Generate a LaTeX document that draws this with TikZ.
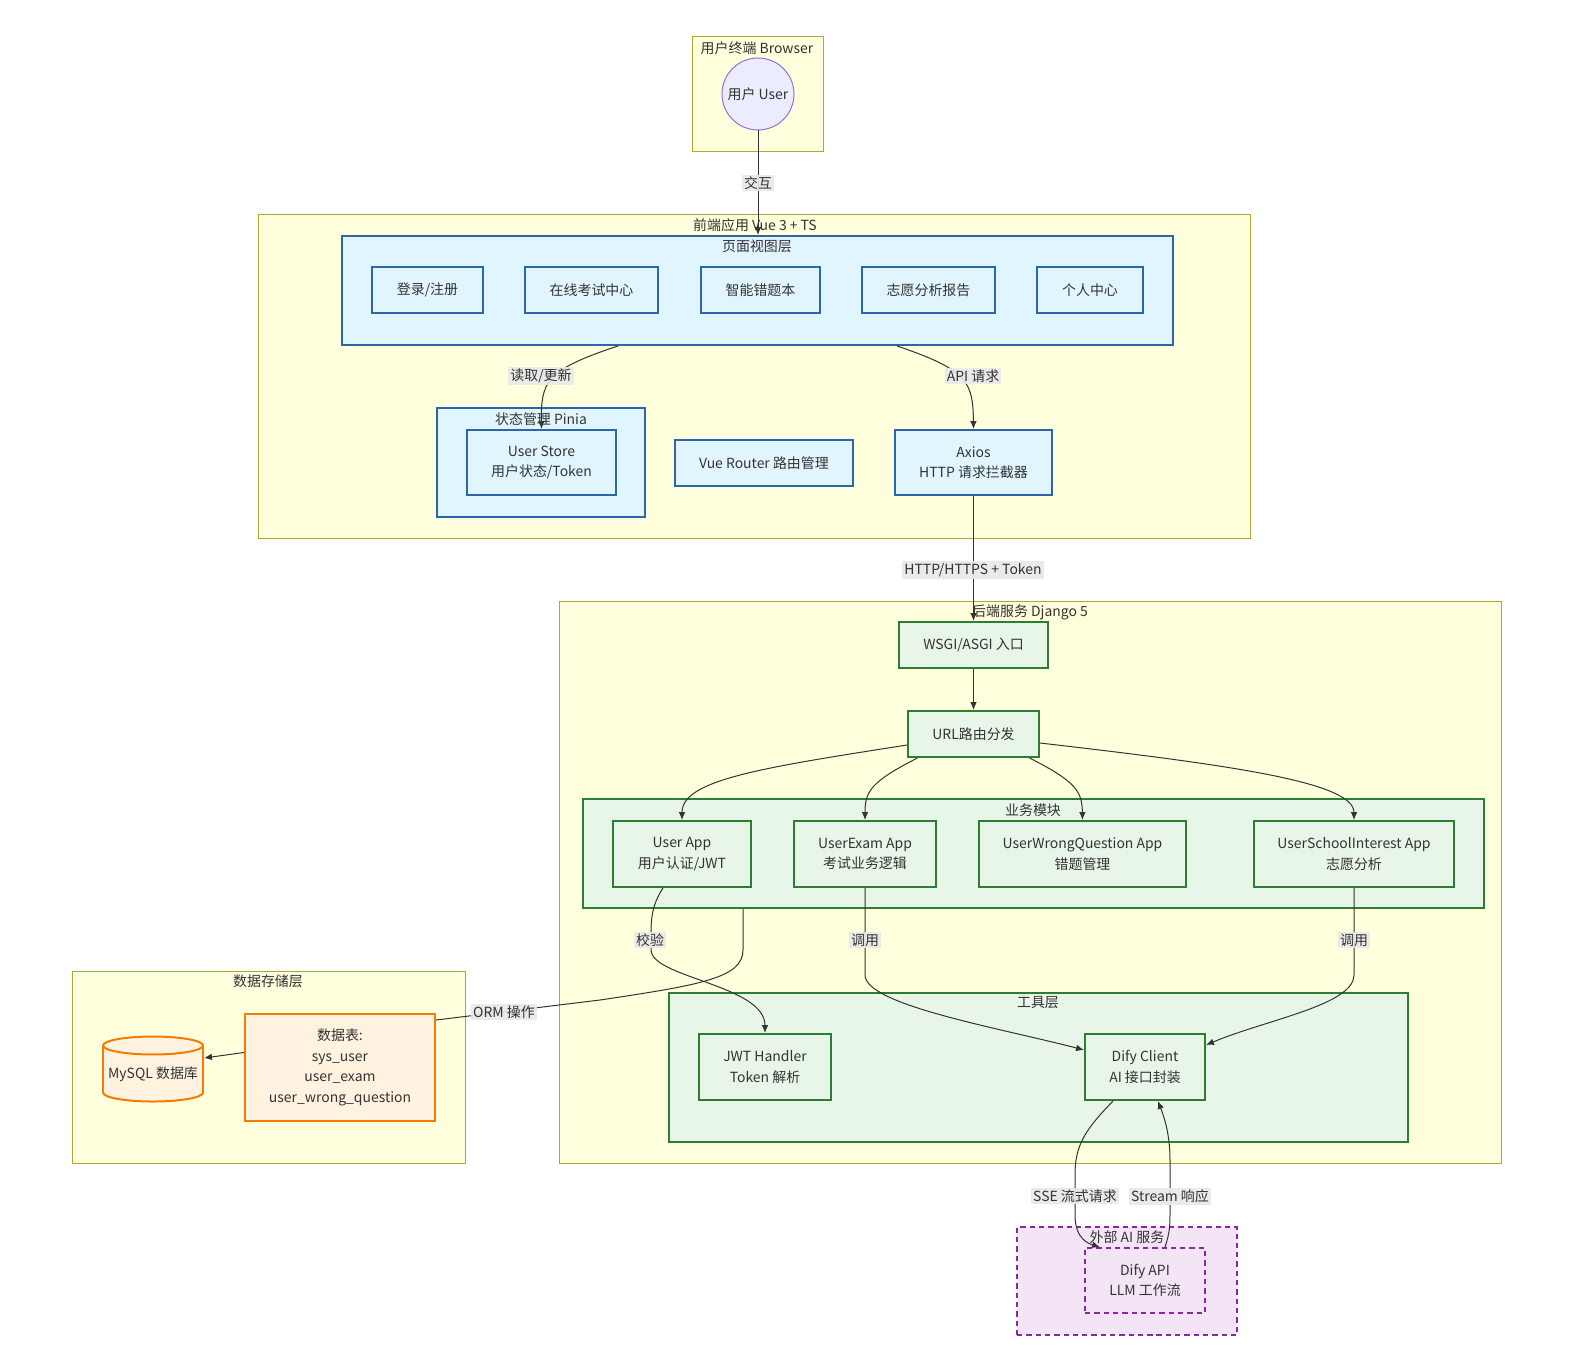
\documentclass[tikz,border=0pt]{standalone}
\usepackage{fontspec}
\setmainfont{Noto Sans CJK SC}
\usetikzlibrary{arrows.meta,shapes.geometric,calc}
\definecolor{clfill}{HTML}{FFFFDE}
\definecolor{clline}{HTML}{AAAA33}
\definecolor{bfill}{HTML}{E1F5FE}
\definecolor{bline}{HTML}{2A66A8}
\definecolor{gfill}{HTML}{E8F5E9}
\definecolor{gline}{HTML}{2E7D32}
\definecolor{ofill}{HTML}{FFF3E0}
\definecolor{oline}{HTML}{F57C00}
\definecolor{pfill}{HTML}{F3E5F5}
\definecolor{pline}{HTML}{8E24AA}
\definecolor{txt}{HTML}{333333}
\definecolor{lblbg}{HTML}{E8E8E8}
\definecolor{ufill}{HTML}{ECECFF}
\definecolor{uline}{HTML}{9370DB}
\begin{document}
\begin{tikzpicture}[x=0.75bp,y=-0.75bp,
  font=\fontsize{10.5}{15.5}\selectfont, text=txt,
  sz/.style 2 args={minimum width=#1*0.75bp, minimum height=#2*0.75bp, inner sep=0pt},
  cluster/.style={draw=clline, fill=clfill, line width=0.75pt, rectangle},
  bbox/.style={draw=bline, fill=bfill, line width=1.5pt, rectangle, align=center},
  gbox/.style={draw=gline, fill=gfill, line width=1.5pt, rectangle, align=center},
  obox/.style={draw=oline, fill=ofill, line width=1.5pt, align=center},
  pbox/.style={draw=pline, fill=pfill, line width=1.2pt, dash pattern=on 4pt off 3pt, align=center},
  ctitle/.style={inner sep=0pt, anchor=center, text=txt},
  edge/.style={draw=txt, line width=0.75pt, -{Latex[length=6pt,width=5pt]}},
  plain/.style={draw=txt, line width=0.75pt},
  elabel/.style={fill=lblbg, fill opacity=0.9, text opacity=1, inner sep=1.5pt, text=txt},
]
\useasboundingbox (0,0) rectangle (1572,1358);

% clusters
\node[cluster, sz={131}{114}] (browser) at (757.5,94) {};
\node[cluster, sz={992}{324}] (frontend) at (754,376) {};
\node[bbox, sz={831}{109}] (views) at (757.5,290.5) {};
\node[bbox, sz={208}{109}] (pinia) at (541,462.5) {};
\node[cluster, sz={942}{562}] (backend) at (1030,882) {};
\node[gbox, sz={901}{109}] (biz) at (1033.5,853.5) {};
\node[gbox, sz={739}{149}] (tools) at (1038.5,1067.5) {};
\node[cluster, sz={393}{192}] (storage) at (268.5,1067) {};
\node[pbox, sz={220}{108}] (external) at (1127,1281) {};

% cluster titles
\node[ctitle] (tbrowser) at (757,48) {用户终端 Browser};
\node[ctitle] (tfrontend) at (755,225) {前端应用 Vue 3 + TS};
\node[ctitle] (tviews) at (757,246) {页面视图层};
\node[ctitle] (tpinia) at (541,419) {状态管理 Pinia};
\node[ctitle] (tbackend) at (1030,612) {后端服务 Django 5};
\node[ctitle] (tbiz) at (1033,810) {业务模块};
\node[ctitle] (ttools) at (1038,1003) {工具层};
\node[ctitle] (tstorage) at (268,981) {数据存储层};
\node[ctitle] (texternal) at (1127,1237) {外部 AI 服务};

% nodes
\node[circle, draw=uline, fill=ufill, line width=0.75pt, minimum size=72*0.75bp, inner sep=0pt] (user) at (758,94) {用户 User};

\node[bbox, sz={111}{46}] (login) at (427.5,290) {登录/注册};
\node[bbox, sz={133}{46}] (exam) at (591.5,290) {在线考试中心};
\node[bbox, sz={119}{46}] (wrong) at (760.5,290) {智能错题本};
\node[bbox, sz={133}{46}] (report) at (928.5,290) {志愿分析报告};
\node[bbox, sz={106}{46}] (profile) at (1090,290) {个人中心};

\node[bbox, sz={149}{65}] (ustore) at (541.5,462.5) {User Store\\用户状态/Token};
\node[bbox, sz={178}{46}] (router) at (764,463) {Vue Router 路由管理};
\node[bbox, sz={157}{65}] (axios) at (973.5,462.5) {Axios\\HTTP 请求拦截器};

\node[gbox, sz={149}{46}] (wsgi) at (973.5,645) {WSGI/ASGI 入口};
\node[gbox, sz={131}{46}] (url) at (973.5,734) {URL路由分发};

\node[gbox, sz={138}{66}] (userapp) at (682,854) {User App\\用户认证/JWT};
\node[gbox, sz={142}{66}] (examapp) at (865,854) {UserExam App\\考试业务逻辑};
\node[gbox, sz={207}{66}] (wrongapp) at (1082.5,854) {UserWrongQuestion App\\错题管理};
\node[gbox, sz={200}{66}] (schoolapp) at (1354,854) {UserSchoolInterest App\\志愿分析};

\node[gbox, sz={132}{66}] (jwt) at (765,1067) {JWT Handler\\Token 解析};
\node[gbox, sz={120}{66}] (dify) at (1145,1067) {Dify Client\\AI 接口封装};

\node[obox, sz={190}{107}] (tables) at (340,1067.5) {数据表:\\sys\_user\\user\_exam\\user\_wrong\_question};
\node[cylinder, shape border rotate=90, aspect=0.2, draw=oline, fill=ofill, line width=1.5pt,
      minimum width=100*0.75bp, minimum height=65*0.75bp, inner sep=0pt] (mysql) at (153,1074) {MySQL 数据库};

\node[pbox, sz={120}{65}] (difyapi) at (1145,1280.5) {Dify API\\LLM 工作流};

% edges
\draw[edge] (user.south) -- (user.south |- views.north);
\draw[edge] ($(views.south)+(-139.5,0)$) .. controls (545,370) and (541,382) .. (ustore.north);
\draw[edge] ($(views.south)+(139.5,0)$) .. controls (968,370) and (973,382) .. (axios.north);
\draw[edge] (axios.south) -- (wsgi.north);
\draw[edge] (wsgi.south) -- (url.north);
\draw[edge] ($(url.west)+(0,11)$) .. controls (760,768) and (682,780) .. (userapp.north);
\draw[edge] ($(url.south)+(-56,0)$) .. controls (870,782) and (865,792) .. (examapp.north);
\draw[edge] ($(url.south)+(56,0)$) .. controls (1077,782) and (1082,792) .. (wrongapp.north);
\draw[edge] ($(url.east)+(0,9)$) .. controls (1230,765) and (1354,782) .. (schoolapp.north);
\draw[edge] ($(userapp.south)+(-19,0)$) .. controls (652,905) and (651,918) .. (651,935) -- (651,950) .. controls (652,978) and (765,985) .. (jwt.north);
\draw[edge] (examapp.south) -- (865,975) .. controls (865,1005) and (1000,1028) .. ($(dify.west)+(0,-17)$);
\draw[edge] (schoolapp.south) -- (1354,975) .. controls (1354,1005) and (1265,1020) .. ($(dify.east)+(0,-22)$);
\draw[plain] ($(biz.south)+(-290.5,0)$) -- (743,950) .. controls (743,978) and (700,985) .. (600,1000) -- ($(tables.north east)+(0,7)$);
\draw[edge] ($(tables.west)+(0,-15)$) -- ($(mysql.east)+(0,-16)$);
\draw[edge] ($(dify.south)+(-32,0)$) .. controls (1085,1130) and (1075,1145) .. (1075,1175) -- (1075,1215) .. controls (1075,1240) and (1090,1244) .. ($(difyapi.north)+(-45,0)$);
\draw[edge] ($(difyapi.north)+(20,0)$) .. controls (1170,1232) and (1170,1225) .. (1170,1210) -- (1170,1160) .. controls (1170,1130) and (1162,1112) .. ($(dify.south)+(13,0)$);

% edge labels
\node[elabel] (l1) at (758,183) {交互};
\node[elabel] (l2) at (541,376) {读取/更新};
\node[elabel] (l3) at (973,376) {API 请求};
\node[elabel] (l4) at (973,570) {HTTP/HTTPS + Token};
\node[elabel] (l5) at (650,940) {校验};
\node[elabel] (l6) at (865,940) {调用};
\node[elabel] (l7) at (1354,940) {调用};
\node[elabel] (l8) at (504,1012) {ORM 操作};
\node[elabel] (l9) at (1075,1196) {SSE 流式请求};
\node[elabel] (l10) at (1170,1196) {Stream 响应};
\end{tikzpicture}
\end{document}
